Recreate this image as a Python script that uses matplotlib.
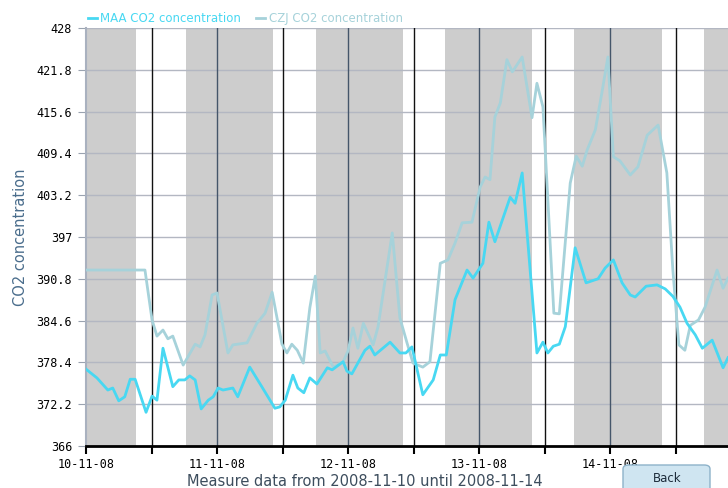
import matplotlib
matplotlib.use("Agg")
import matplotlib.pyplot as plt
from matplotlib.patches import FancyBboxPatch

# hours since 2008-11-10 00:00
maa_hours = [0, 2, 4, 4.9, 6, 7.1, 8.1, 9, 11, 12.1, 13, 14.1, 15.9, 17, 18.1, 19, 20, 21.1,
             22.4, 23.3, 24.2, 25.1, 26.9, 27.8, 30, 32.2, 34.6, 35.5, 36.5, 37.9, 38.8, 39.9,
             41, 42.3, 44.2, 45.1, 47.1, 47.8, 48.7, 51.1, 52, 52.9, 55.7, 57.5, 58.6, 59.7,
             61.7, 63.6, 64.9, 66, 67.6, 69.8, 70.9, 72.7, 73.8, 74.9, 77.7, 78.6, 79.9, 82.6,
             83.7, 84.6, 85.6, 86.7, 87.8, 89.6, 91.6, 93.8, 95.1, 96.6, 98.2, 99.7, 100.6,
             102.6, 104.6, 106.1, 107.5, 108.8, 110.1, 111.6, 112.9, 114.7, 116.7, 117.6]
maa_co2 = [377.4, 376.1, 374.3, 374.6, 372.7, 373.3, 375.9, 375.9, 371.0, 373.4, 372.8, 380.5,
           374.8, 375.8, 375.8, 376.4, 375.8, 371.5, 372.8, 373.3, 374.6, 374.3, 374.6, 373.3,
           377.7, 374.8, 371.6, 371.8, 372.8, 376.5, 374.6, 373.9, 376.1, 375.2, 377.6, 377.3,
           378.5, 377.1, 376.7, 380.2, 380.8, 379.5, 381.4, 379.8, 379.8, 380.7, 373.6, 375.8,
           379.5, 379.5, 387.7, 392.1, 390.9, 393.1, 399.2, 396.3, 402.9, 402.0, 406.5, 379.8,
           381.4, 379.8, 380.8, 381.1, 383.7, 395.4, 390.2, 390.8, 392.4, 393.6, 390.2, 388.4,
           388.1, 389.7, 389.9, 389.3, 388.2, 386.6, 384.2, 382.5, 380.5, 381.7, 377.6, 379.1]

czj_hours = [0, 10.8, 12.1, 13, 14.1, 15, 15.9, 17.8, 20, 20.9, 21.8, 23.1, 24, 26, 26.9, 29.5,
             31.3, 32.8, 34.1, 35.9, 36.8, 37.7, 38.7, 39.8, 41, 42, 42.9, 43.8, 45.3, 47.1, 48,
             48.9, 49.8, 50.8, 52.6, 53.5, 56.1, 57.5, 58.8, 59.9, 61.7, 63, 64.9, 66.3, 67.6,
             68.9, 70.7, 72.2, 73.1, 74, 74.9, 75.9, 77.1, 78.1, 79.9, 81.7, 82.6, 83.7, 85.7,
             86.7, 88.7, 89.8, 90.9, 91.8, 93.3, 94.5, 95.6, 96.6, 97.8, 99.7, 101.1, 102.8,
             104.8, 106.4, 107.5, 108.6, 109.7, 110.7, 112.2, 113.4, 115.6, 116.7, 117.6]
czj_co2 = [392.1, 392.1, 384.7, 382.3, 383.2, 381.9, 382.3, 378.0, 381.1, 380.7, 382.5, 388.4,
           388.7, 379.8, 381.0, 381.3, 384.2, 385.7, 388.8, 381.1, 379.8, 381.1, 380.2, 378.3,
           386.5, 391.2, 379.8, 380.1, 377.7, 378.5, 380.1, 383.5, 380.5, 384.2, 381.0, 383.7,
           397.6, 385.0, 381.3, 378.3, 377.7, 378.5, 393.1, 393.6, 396.1, 399.1, 399.2, 404.4,
           405.9, 405.5, 414.8, 416.9, 423.3, 421.5, 423.7, 414.7, 419.8, 416.3, 385.7, 385.6,
           405.0, 409.0, 407.5, 409.9, 412.9, 418.4, 423.7, 408.9, 408.3, 406.2, 407.4, 412.1,
           413.6, 406.5, 392.1, 381.0, 380.2, 383.9, 384.7, 386.6, 392.1, 389.4, 390.9]

# dark periods (hours)
night_start = [0, 18.3, 42.1, 65.8, 89.4, 113.2]
night_end = [9.1, 34.3, 58.1, 81.7, 105.5, 120]

y_ticks = [366, 372.2, 378.4, 384.6, 390.8, 397, 403.2, 409.4, 415.6, 421.8, 428]
x_ticks = [0, 12, 24, 36, 48, 60, 72, 84, 96, 108]
x_labels = ["10-11-08", "", "11-11-08", "", "12-11-08", "", "13-11-08", "", "14-11-08", ""]

fig = plt.figure(figsize=(7.28, 4.88), dpi=100)
ax = fig.add_axes([86 / 728, 42 / 488, 1 - 86 / 728, 418 / 488])

for s, e in zip(night_start, night_end):
    ax.axvspan(s, e, color="#cdcdcd", lw=0, zorder=0)

for y in y_ticks[1:]:
    ax.axhline(y, color="#b3b7c2", lw=1, zorder=1)
for x in x_ticks[1:]:
    ax.axvline(x, color="#45566a" if x % 24 == 0 else "#111111", lw=1, zorder=1)

ax.plot(czj_hours, czj_co2, color="#a6d2da", lw=2, label="CZJ CO2 concentration", zorder=3)
ax.plot(maa_hours, maa_co2, color="#48d8f2", lw=2, label="MAA CO2 concentration", zorder=4)

ax.set_xlim(0, 117.6)
ax.set_ylim(366, 428)
ax.set_yticks(y_ticks)
ax.set_yticklabels([f"{v:g}" for v in y_ticks], family="DejaVu Sans Mono", fontsize=8.5)
ax.set_xticks(x_ticks)
ax.set_xticklabels(x_labels, family="DejaVu Sans Mono", fontsize=8.5)
ax.tick_params(axis="y", length=6, color="#9aa3b0", pad=4)
ax.tick_params(axis="x", length=6, width=1.5, color="black", pad=3)

for side in ["top", "right"]:
    ax.spines[side].set_visible(False)
ax.spines["left"].set_color("#a9b1bf")
ax.spines["left"].set_linewidth(1.5)
ax.spines["bottom"].set_color("black")
ax.spines["bottom"].set_linewidth(2)
ax.spines["bottom"].set_zorder(5)

ax.set_ylabel("CO2 concentration", color="#4a6d8c", fontsize=10.5, labelpad=6)
fig.text(365 / 728, 1 - 482 / 488, "Measure data from 2008-11-10 until 2008-11-14",
         color="#3d4d5d", fontsize=10.5, ha="center", va="center")

handles, labels = ax.get_legend_handles_labels()
leg = ax.legend(handles[::-1], labels[::-1], loc="lower left", bbox_to_anchor=(-0.005, 0.995),
                ncol=2, frameon=False, handlelength=0.8, handletextpad=0.3, columnspacing=1.2,
                borderaxespad=0, fontsize=8.5, labelcolor="linecolor")

btn = FancyBboxPatch((623 / 728, -10 / 488), 87 / 728, 33 / 488, transform=fig.transFigure,
                     boxstyle="round,pad=0,rounding_size=0.008", fc="#cfe5f1", ec="#8db2c9",
                     lw=1, clip_on=False)
fig.patches.append(btn)
fig.text(667 / 728, 1 - 479 / 488, "Back", color="#1c2b3a", fontsize=8.5, ha="center", va="center")

fig.savefig("out.png", dpi=100)
